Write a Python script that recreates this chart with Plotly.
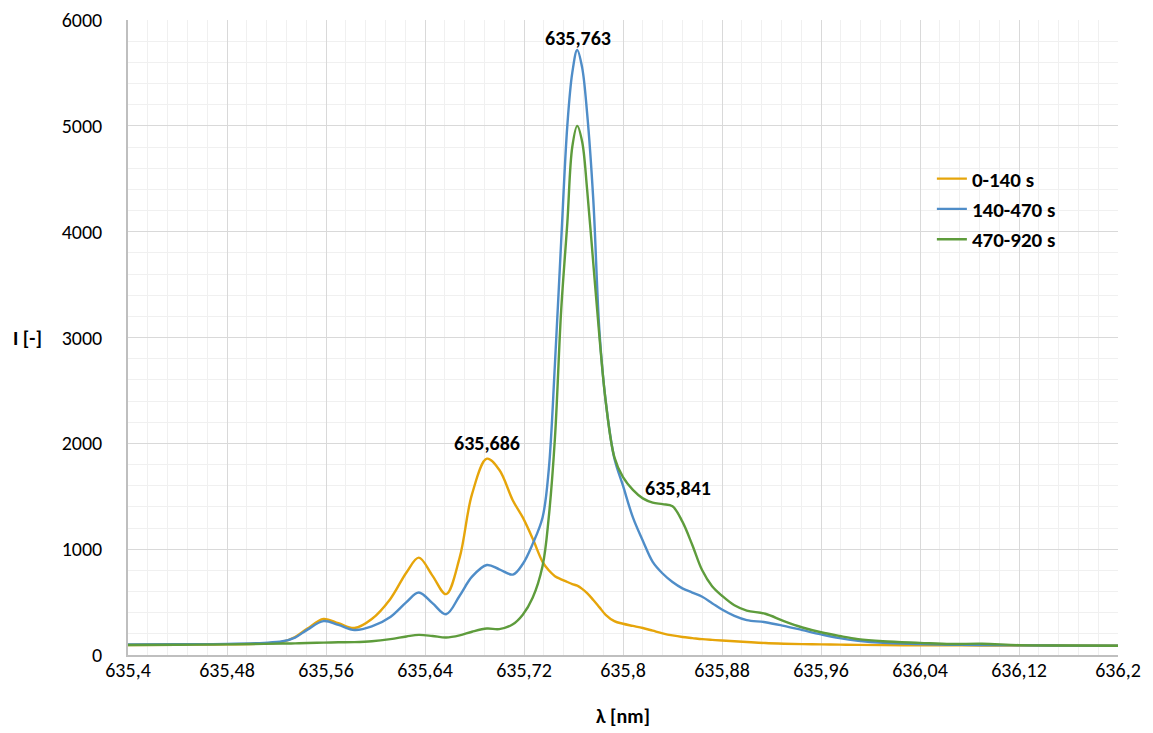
import plotly.graph_objects as go

# ---------------- data ----------------
wavelength = [
    635.400, 635.440, 635.480, 635.510, 635.525, 635.535, 635.545, 635.558, 635.570, 635.583,
    635.597, 635.612, 635.625, 635.635, 635.646, 635.657, 635.668, 635.678, 635.690, 635.700,
    635.711, 635.719, 635.727, 635.735, 635.740, 635.745, 635.750, 635.755, 635.759, 635.763,
    635.767, 635.771, 635.776, 635.781, 635.786, 635.793, 635.800, 635.808, 635.816, 635.824,
    635.832, 635.840, 635.848, 635.856, 635.864, 635.872, 635.880, 635.890, 635.900, 635.915,
    635.930, 635.945, 635.960, 635.975, 635.990, 636.010, 636.040, 636.065, 636.090, 636.120,
    636.160, 636.200,
]

i_0_140 = [
    95, 97, 100, 110, 125, 170, 250, 340, 300, 255,
    340, 530, 780, 920, 750, 575, 920, 1520, 1855, 1750,
    1460, 1300, 1100, 880, 800, 745, 715, 690, 670, 655,
    625, 585, 520, 450, 380, 320, 295, 275, 255, 230,
    205, 185, 170, 160, 150, 143, 137, 130, 123, 113,
    107, 103, 100, 98, 96, 93, 92, 91, 90, 90,
    89, 88,
]

i_140_470 = [
    100, 102, 105, 115, 130, 165, 240, 320, 285, 236,
    270, 360, 500, 590, 490, 385, 560, 740, 850, 810,
    760, 860, 1050, 1300, 1750, 2750, 3900, 5000, 5500, 5717,
    5550, 5120, 4300, 3050, 2400, 1860, 1600, 1300, 1080, 880,
    770, 690, 630, 590, 550, 490, 430, 370, 330, 310,
    275, 235, 195, 160, 135, 115, 104, 97, 93, 91,
    89, 88,
]

i_470_920 = [
    95, 97, 100, 105, 108, 110, 113, 117, 120, 122,
    130, 150, 175, 190, 180, 165, 185, 220, 250, 245,
    290, 380, 540, 840, 1300, 2050, 3250, 4080, 4800, 5000,
    4850, 4400, 3700, 3000, 2400, 1870, 1680, 1560, 1480, 1440,
    1425, 1405, 1260, 1040, 800, 650, 560, 470, 420, 390,
    320, 260, 215, 180, 150, 130, 115, 104, 107, 93,
    90, 88,
]

series_names = ["0-140 s", "140-470 s", "470-920 s"]

peak_wavelengths = [635.686, 635.763, 635.841]
peak_intensities = [1858, 5717, 1405]

x_tick_values = [635.40, 635.48, 635.56, 635.64, 635.72, 635.80, 635.88, 635.96, 636.04, 636.12, 636.20]
x_tick_labels = ["635,4", "635,48", "635,56", "635,64", "635,72", "635,8", "635,88", "635,96",
                 "636,04", "636,12", "636,2"]
y_tick_values = [0, 1000, 2000, 3000, 4000, 5000, 6000]
y_tick_labels = ["0", "1000", "2000", "3000", "4000", "5000", "6000"]

x_title = "λ [nm]"
y_title = "I [-]"

# ---------------- style ----------------
FONT = "Calibri, Carlito, Lato, 'Open Sans', sans-serif"
colors = ["#E6A50A", "#4F8DC8", "#5E9C3C"]
series = [i_0_140, i_140_470, i_470_920]

fig = go.Figure()
for k, (name, vals) in enumerate(zip(series_names, series)):
    fig.add_trace(go.Scatter(
        x=wavelength, y=vals, name=name, mode="lines",
        line=dict(color=colors[k], width=2.4, shape="spline", smoothing=1.0),
    ))

label_shifts = [(5, 1), (1, -2), (4, 4)]
for (px, py), (xs, ys) in zip(zip(peak_wavelengths, peak_intensities), label_shifts):
    fig.add_annotation(
        x=px, y=py, text=f"{px:.3f}".replace(".", ","),
        showarrow=False, xanchor="center", yanchor="bottom",
        xshift=xs, yshift=ys,
        font=dict(family=FONT, size=20, color="#000000", weight="bold"),
    )

# horizontal y-axis title (as in the original)
fig.add_annotation(
    xref="paper", yref="paper", x=0, y=0.5, text=y_title,
    showarrow=False, xanchor="left", yanchor="middle", xshift=-117,
    font=dict(family=FONT, size=20, color="#000000", weight="bold"),
)

grid_major = "#D9D9D9"
grid_minor = "#F0F0F0"

fig.update_layout(
    width=1145, height=725,
    margin=dict(l=120, r=35, t=12, b=78),
    paper_bgcolor="white", plot_bgcolor="white",
    font=dict(family=FONT, size=20, color="#000000"),
    showlegend=True,
    legend=dict(
        x=0.812, y=0.782, xanchor="left", yanchor="top",
        bgcolor="rgba(0,0,0,0)",
        font=dict(family=FONT, size=21, color="#000000", weight="bold"),
        tracegroupgap=0, itemwidth=30,
    ),
    xaxis=dict(
        range=[635.4, 636.2], tickmode="array",
        tickvals=x_tick_values, ticktext=x_tick_labels,
        showgrid=True, gridcolor=grid_major, gridwidth=1,
        minor=dict(tickmode="linear", tick0=635.4, dtick=0.016, showgrid=True,
                   gridcolor=grid_minor, gridwidth=1),
        showline=True, linecolor="#BFBFBF", linewidth=1.5, mirror=False,
        zeroline=False, ticks="", ticklabelstandoff=-4, automargin=False,
        tickfont=dict(family=FONT, size=20, color="#000000"),
        title=dict(text=x_title, standoff=28,
                   font=dict(family=FONT, size=20, color="#000000", weight="bold")),
    ),
    yaxis=dict(
        range=[0, 6000], tickmode="array",
        tickvals=y_tick_values, ticktext=y_tick_labels,
        showgrid=True, gridcolor=grid_major, gridwidth=1,
        minor=dict(tickmode="linear", tick0=0, dtick=200, showgrid=True,
                   gridcolor=grid_minor, gridwidth=1),
        showline=True, linecolor="#BFBFBF", linewidth=1.5,
        zeroline=False, ticks="", ticklabelstandoff=20, automargin=False,
        tickfont=dict(family=FONT, size=20, color="#000000"),
    ),
)

fig.write_html("out.html")
